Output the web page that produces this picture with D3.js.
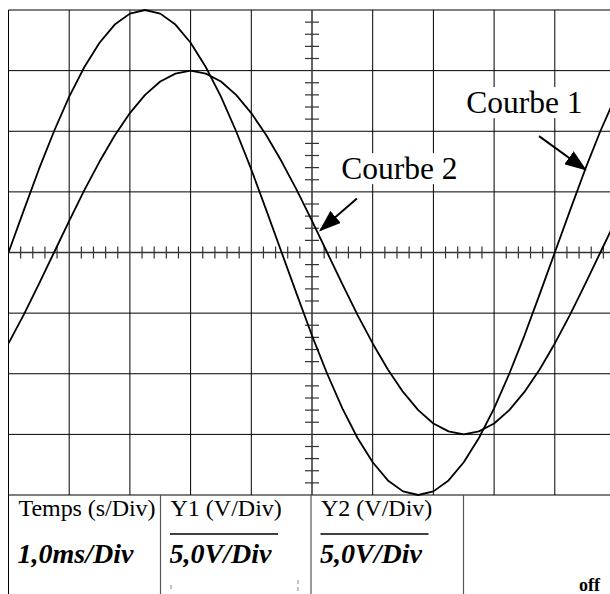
<!DOCTYPE html>
<html>
<head>
<meta charset="utf-8">
<script src="https://cdn.jsdelivr.net/npm/d3@7"></script>
<style>
body { margin: 0; background: #fff; }
svg text { font-family: "Liberation Serif", "Times New Roman", serif; fill: #000; }
</style>
</head>
<body>
<svg id="scope" width="610" height="594"></svg>
<script>
// time in divisions (1,0 ms/Div), amplitude in divisions (5,0 V/Div)
const times = [0, 0.25, 0.5, 0.75, 1, 1.25, 1.5, 1.75, 2, 2.25, 2.5, 2.75, 3, 3.25, 3.5, 3.75,
    4, 4.25, 4.5, 4.75, 5, 5.25, 5.5, 5.75, 6, 6.25, 6.5, 6.75, 7, 7.25, 7.5, 7.75,
    8, 8.25, 8.5, 8.75, 9, 9.25, 9.5, 9.75, 10];
const courbe1 = [0, 0.69, 1.37, 2.00, 2.57, 3.06, 3.46, 3.76, 3.94, 4.00, 3.94, 3.76, 3.46, 3.06, 2.57, 2.00,
    1.37, 0.69, 0, -0.69, -1.37, -2.00, -2.57, -3.06, -3.46, -3.76, -3.94, -4.00, -3.94, -3.76, -3.46, -3.06,
    -2.57, -2.00, -1.37, -0.69, 0, 0.69, 1.37, 2.00, 2.57];
const courbe2 = [-1.50, -1.03, -0.52, 0, 0.52, 1.03, 1.50, 1.93, 2.30, 2.60, 2.82, 2.95, 3.00, 2.95, 2.82, 2.60,
    2.30, 1.93, 1.50, 1.03, 0.52, 0, -0.52, -1.03, -1.50, -1.93, -2.30, -2.60, -2.82, -2.95, -3.00, -2.95,
    -2.82, -2.60, -2.30, -1.93, -1.50, -1.03, -0.52, 0, 0.52];

const xDivs = [0, 1, 2, 3, 4, 5, 6, 7, 8, 9, 10];
const yDivs = [-4, -3, -2, -1, 0, 1, 2, 3, 4];

const labels = ["Courbe 1", "Courbe 2"];
const labelAt = [[7.54, 2.30], [5.48, 1.21]];
const arrowFrom = [[8.74, 1.92], [5.74, 0.89]];
const arrowTo = [[9.50, 1.37], [5.14, 0.37]];

const headers = ["Temps (s/Div)", "Y1 (V/Div)", "Y2 (V/Div)", ""];
const settings = ["1,0ms/Div", "5,0V/Div", "5,0V/Div", ""];
const status = "off";

let svg = d3.select("#scope");
let x = d3.scaleLinear().domain([0, 10]).range([8.5, 615.5]);
let y = d3.scaleLinear().domain([-4, 4]).range([495, 10]);

svg.append("rect").attr("width", 610).attr("height", 594).attr("fill", "#fff");

let grid = svg.append("g").attr("stroke", "#000").attr("stroke-width", 1);
grid.selectAll(".vline")
    .data(xDivs.filter(d => d !== 5))
    .enter().append("line")
    .attr("x1", d => x(d)).attr("x2", d => x(d))
    .attr("y1", y(4)).attr("y2", y(-4));
grid.selectAll(".hline")
    .data(yDivs.filter(d => d !== 0))
    .enter().append("line")
    .attr("x1", x(0)).attr("x2", x(10))
    .attr("y1", d => y(d)).attr("y2", d => y(d));

// centre axes with their sub-division ticks
let axes = svg.append("g").attr("stroke", "#333").attr("stroke-width", 1.5);
axes.append("line")
    .attr("x1", x(0)).attr("x2", x(10))
    .attr("y1", y(0)).attr("y2", y(0));
axes.append("line")
    .attr("x1", x(5)).attr("x2", x(5))
    .attr("y1", y(4)).attr("y2", y(-4));
let subX = d3.range(0, 50).map(i => i / 5).filter(d => d % 1 !== 0);
let subY = d3.range(-20, 20).map(i => i / 5).filter(d => d % 1 !== 0);
axes.selectAll(".tx")
    .data(subX)
    .enter().append("line")
    .attr("stroke-width", 1.2)
    .attr("x1", d => x(d)).attr("x2", d => x(d))
    .attr("y1", y(0) - 6).attr("y2", y(0) + 6);
axes.selectAll(".ty")
    .data(subY)
    .enter().append("line")
    .attr("stroke-width", 1.2)
    .attr("x1", x(5) - 7).attr("x2", x(5) + 7)
    .attr("y1", d => y(d)).attr("y2", d => y(d));

// traces
let line = d3.line()
    .x((d, i) => x(times[i]))
    .y(d => y(d));
svg.append("clipPath").attr("id", "screen")
    .append("rect")
    .attr("x", x(0)).attr("y", y(4) - 2)
    .attr("width", x(10) - x(0)).attr("height", y(-4) - y(4) + 4);
let traces = svg.append("g").attr("clip-path", "url(#screen)");
for (let serie of [courbe1, courbe2]) {
    traces.append("path")
        .datum(serie)
        .attr("fill", "none")
        .attr("stroke", "#000")
        .attr("stroke-width", 1.8)
        .attr("stroke-linejoin", "round")
        .attr("d", line);
}

// labels with arrows
svg.append("defs").append("marker")
    .attr("id", "head")
    .attr("viewBox", "0 0 22 16")
    .attr("refX", 20).attr("refY", 8)
    .attr("markerWidth", 22).attr("markerHeight", 16)
    .attr("markerUnits", "userSpaceOnUse")
    .attr("orient", "auto")
    .append("path")
    .attr("d", "M0,0 L22,8 L0,16 z")
    .attr("fill", "#000");

labels.forEach((label, i) => {
    let g = svg.append("g");
    let t = g.append("text")
        .attr("x", x(labelAt[i][0]))
        .attr("y", y(labelAt[i][1]))
        .attr("font-size", 31.5)
        .text(label);
    let box = t.node().getBBox();
    g.insert("rect", "text")
        .attr("x", box.x - 4).attr("y", box.y + 2)
        .attr("width", box.width + 8).attr("height", box.height - 4)
        .attr("fill", "#fff");
    svg.append("line")
        .attr("x1", x(arrowFrom[i][0])).attr("y1", y(arrowFrom[i][1]))
        .attr("x2", x(arrowTo[i][0])).attr("y2", y(arrowTo[i][1]))
        .attr("stroke", "#000")
        .attr("stroke-width", 2)
        .attr("marker-end", "url(#head)");
});

// settings table under the screen
const cellX = [8.5, 160.5, 311, 463.5];
let table = svg.append("g");
table.append("line")
    .attr("x1", 8.5).attr("x2", 8.5)
    .attr("y1", y(-4)).attr("y2", 594)
    .attr("stroke", "#000");
table.selectAll(".divider")
    .data(cellX.slice(1))
    .enter().append("line")
    .attr("x1", d => d).attr("x2", d => d)
    .attr("y1", y(-4)).attr("y2", 594)
    .attr("stroke", "#555").attr("stroke-width", 1.2);
table.selectAll(".head")
    .data(headers)
    .enter().append("text")
    .attr("x", (d, i) => cellX[i] + 10)
    .attr("y", 516)
    .attr("font-size", 24)
    .attr("textLength", (d, i) => i === 0 ? 137 : null)
    .text(d => d);
table.selectAll(".rule")
    .data([1, 2])
    .enter().append("line")
    .attr("x1", d => cellX[d] + 9.5).attr("x2", d => cellX[d] + 117.5)
    .attr("y1", 534).attr("y2", 534)
    .attr("stroke", "#000").attr("stroke-width", 1.5);
table.selectAll(".setting")
    .data(settings)
    .enter().append("text")
    .attr("x", (d, i) => cellX[i] + 9)
    .attr("y", 563)
    .attr("font-size", 28)
    .attr("font-weight", "bold")
    .attr("font-style", "italic")
    .text(d => d);
table.append("text")
    .attr("x", 579).attr("y", 591)
    .attr("font-size", 18)
    .attr("font-weight", "bold")
    .text(status);
table.selectAll(".stub")
    .data([[171, 585, 592], [298, 580, 592]])
    .enter().append("line")
    .attr("x1", d => d[0]).attr("x2", d => d[0])
    .attr("y1", d => d[1]).attr("y2", d => d[2])
    .attr("stroke", "#888").attr("stroke-dasharray", "4,3");
</script>
</body>
</html>
